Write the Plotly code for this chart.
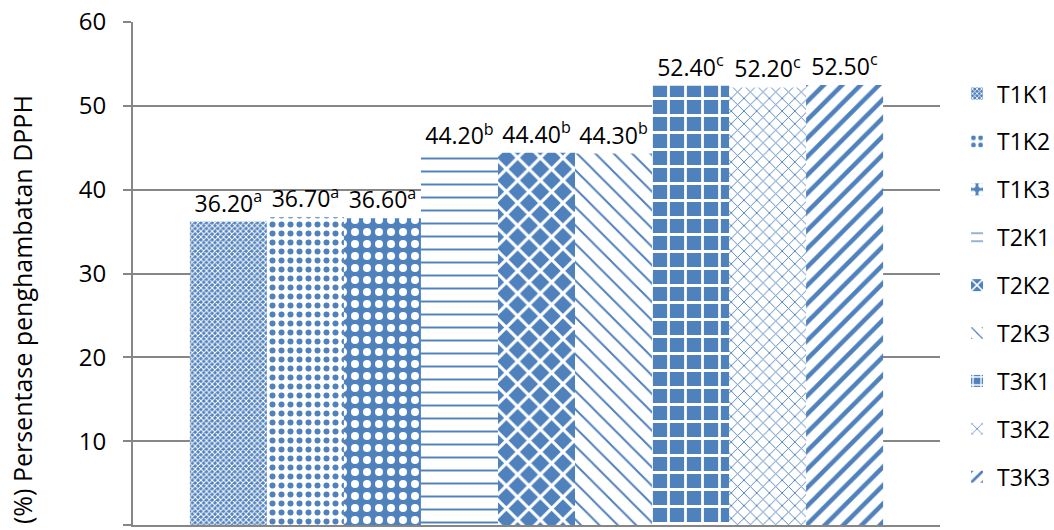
import plotly.graph_objects as go

# Treatment groups and their DPPH inhibition (%) with significance letters
treatments = ["T1K1", "T1K2", "T1K3", "T2K1", "T2K2", "T2K3", "T3K1", "T3K2", "T3K3"]
inhibition = [36.20, 36.70, 36.60, 44.20, 44.40, 44.30, 52.40, 52.20, 52.50]
letters = ["a", "a", "a", "b", "b", "b", "c", "c", "c"]
y_ticks = [0, 10, 20, 30, 40, 50, 60]

BLUE = "#4F81BD"
WHITE = "#FFFFFF"
FONT = "Open Sans"
FS = 24

# fill pattern per treatment: (shape, foreground, background, size, solidity)
patterns = [
    ("x", WHITE, BLUE, 4, 0.45),
    (".", BLUE, WHITE, 9, 0.35),
    (".", WHITE, BLUE, 12, 0.35),
    ("-", BLUE, WHITE, 13, 0.15),
    ("x", WHITE, BLUE, 16, 0.35),
    ("\\", BLUE, WHITE, 13, 0.15),
    ("+", WHITE, BLUE, 17, 0.3),
    ("x", BLUE, WHITE, 9, 0.2),
    ("/", BLUE, WHITE, 13, 0.35),
]

fig = go.Figure()
for name, val, let, (shape, fg, bg, size, sol) in zip(treatments, inhibition, letters, patterns):
    fig.add_trace(go.Bar(
        x=[0],
        y=[val],
        name=name,
        legendgroup=name,
        text=[f"{val:.2f}<sup>{let}</sup>"],
        textposition="outside",
        textfont=dict(family=FONT, size=FS - 1, color="#000000"),
        cliponaxis=False,
        marker=dict(
            color=bg,
            line=dict(width=0),
            pattern=dict(shape=shape, fgcolor=fg, bgcolor=bg, size=size,
                         solidity=sol, fillmode="replace"),
        ),
    ))

fig.update_layout(
    width=1054,
    height=530,
    margin=dict(l=133, r=114, t=22, b=5, autoexpand=False),
    paper_bgcolor="white",
    plot_bgcolor="white",
    barmode="group",
    bargap=0.141,
    bargroupgap=0,
    font=dict(family=FONT, size=FS, color="#000000"),
    showlegend=True,
    legend=dict(
        xref="container", yref="container",
        x=0.908, xanchor="left", y=0.864, yanchor="top",
        font=dict(family=FONT, size=FS - 1),
        tracegroupgap=15,
        maxheight=520,
        bgcolor="rgba(0,0,0,0)",
    ),
)

fig.update_xaxes(
    range=[-0.5, 0.5],
    showticklabels=False,
    showgrid=False,
    zeroline=False,
    showline=True,
    linecolor="#868686",
    linewidth=2,
    ticks="",
)

fig.update_yaxes(
    range=[0, 60],
    tickvals=y_ticks,
    showgrid=True,
    gridcolor="#868686",
    gridwidth=2,
    zeroline=False,
    showline=True,
    linecolor="#868686",
    linewidth=2,
    ticks="outside",
    ticklen=8,
    tickwidth=2,
    tickcolor="#868686",
    ticklabelstandoff=12,
    tickfont=dict(family=FONT, size=FS),
)

fig.add_annotation(
    text="(%) Persentase penghambatan DPPH",
    xref="paper", yref="paper",
    x=-133 / 807 + 22 / 807, y=(530 - 5 - 310) / 503,
    xanchor="center", yanchor="middle",
    textangle=-90,
    showarrow=False,
    font=dict(family=FONT, size=FS + 1, color="#000000"),
)

fig.write_html("out.html")
